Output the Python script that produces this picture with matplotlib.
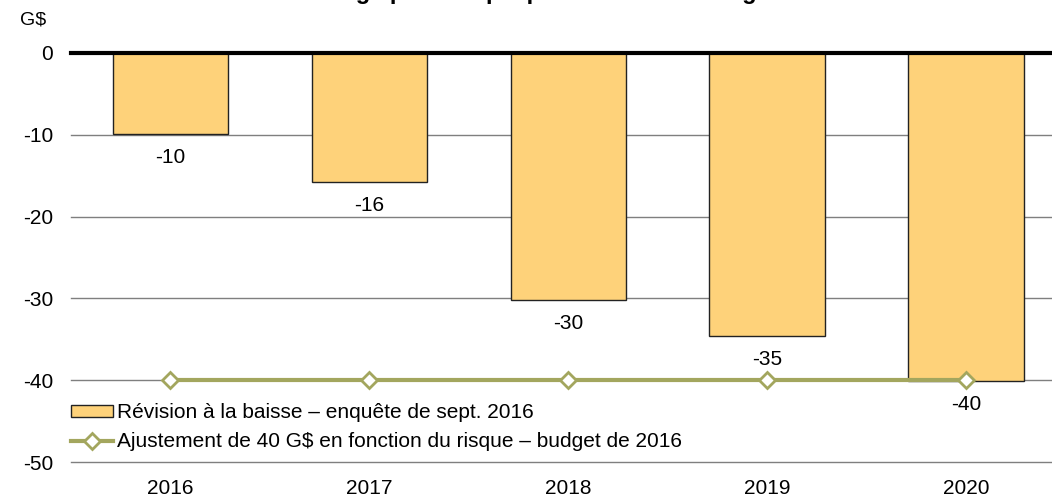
import numpy as np
import matplotlib
matplotlib.use("Agg")
from matplotlib import pyplot as plt

plt.rcParams['font.family'] = ['Liberation Sans', 'DejaVu Sans']
plt.rcParams['axes.unicode_minus'] = False

### Données ###
annees = ['2016', '2017', '2018', '2019', '2020']
revision = [-9.9, -15.8, -30.2, -34.6, -40.1]
etiquettes = ['-10', '-16', '-30', '-35', '-40']
ajustement = [-40, -40, -40, -40, -40]

### Graphique ###
W, H = 1052, 499
fig = plt.figure(figsize=(W / 100., H / 100.), dpi=100)
# axes: gauche 71 px, haut 53 px, bas 462 px, droite coupée au bord
ax = fig.add_axes([71. / W, 1 - 462. / H, (W - 71.) / W, (462. - 53.) / H])

index = np.arange(len(annees))
barres = ax.bar(index, revision, width=0.58, color='#FED27A',
                edgecolor='#222222', linewidth=1, zorder=3,
                label=u'Révision à la baisse – enquête de sept. 2016')
ax.plot(index, ajustement, color='#A3A65E', linewidth=3, marker='D',
        markersize=8, markerfacecolor='white', markeredgecolor='#A3A65E',
        markeredgewidth=2, zorder=4,
        label=u'Ajustement de 40 G$ en fonction du risque – budget de 2016')

for rect, lab in zip(barres, etiquettes):
    ax.annotate(lab, (rect.get_x() + rect.get_width() / 2., rect.get_height()),
                xytext=(0, -10), textcoords='offset points',
                ha='center', va='top', fontsize=15, zorder=5)

ax.set_ylim(-50, 0)
ax.set_xlim(-0.5, 4 + (1052 - 966) / 199.)
ax.set_yticks([0, -10, -20, -30, -40, -50])
ax.set_xticks(index)
ax.set_xticklabels(annees)
ax.tick_params(length=0, labelsize=15)
ax.tick_params(axis='y', pad=13)
ax.tick_params(axis='x', pad=12)
for s in ax.spines.values():
    s.set_visible(False)
for y in [-10, -20, -30, -40, -50]:
    ax.axhline(y, color='#7f7f7f', linewidth=1, zorder=1, clip_on=False)
ax.axhline(0, color='black', linewidth=3, zorder=6, clip_on=False)

h, l = ax.get_legend_handles_labels()
ax.legend(h[::-1], l[::-1], loc='upper left',
          bbox_to_anchor=(0, 1 - (403. - 53.) / 409.),
          frameon=False, fontsize=15, handlelength=2.0, handleheight=0.5,
          handletextpad=0.2, labelspacing=0.5, borderaxespad=0,
          borderpad=0)

fig.text(20. / W, 1 - 20. / H, 'G$', fontsize=14, va='center', ha='left')
fig.text(40. / W, 1 + 1. / H, u'Révisions à la baisse et marge pour risque prévue dans le budget de 2016',
         fontsize=17, fontweight='bold', va='baseline', ha='left')

plt.savefig('out.png', dpi=100)
